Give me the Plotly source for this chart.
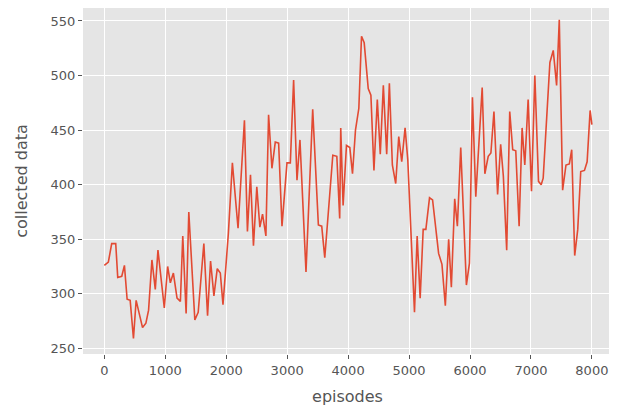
import plotly.graph_objects as go

episodes = [0, 66, 121, 187, 220, 286, 330, 374, 424, 478, 522, 627, 682, 726, 781, 836, 880, 984,
            1039, 1083, 1133, 1193, 1248, 1287, 1342, 1386, 1485, 1540, 1633, 1694, 1743, 1798, 1853,
            1903, 1947, 2035, 2101, 2194, 2299, 2348, 2398, 2447, 2502, 2552, 2596, 2651, 2695, 2750,
            2805, 2860, 2915, 2997, 3052, 3106, 3161, 3210, 3309, 3419, 3512, 3567, 3617, 3749, 3815,
            3862, 3879, 3918, 3973, 4028, 4072, 4121, 4176, 4220, 4264, 4330, 4374, 4424, 4479, 4528,
            4578, 4633, 4677, 4726, 4781, 4831, 4880, 4935, 4979, 5089, 5133, 5182, 5232, 5276, 5336,
            5386, 5485, 5540, 5595, 5650, 5694, 5749, 5793, 5848, 5941, 5991, 6040, 6095, 6200, 6244,
            6299, 6343, 6393, 6453, 6503, 6547, 6602, 6652, 6701, 6751, 6806, 6855, 6899, 6954, 7009,
            7064, 7124, 7168, 7201, 7311, 7366, 7421, 7465, 7520, 7575, 7630, 7669, 7718, 7768, 7817,
            7878, 7922, 7971, 8000]
collected = [326, 329, 346, 346, 315, 316, 326, 295, 294, 259, 294, 269, 273, 285, 331, 304, 340, 287,
             325, 310, 319, 296, 293, 353, 282, 375, 276, 283, 346, 280, 330, 298, 323,
             319, 290, 355, 420, 360, 459, 357, 409, 344, 398, 361, 373, 353, 464, 415,
             439, 438, 362, 420, 420, 496, 404, 441, 320, 469, 363, 362, 333, 427, 426,
             369, 452, 381, 436, 434, 410, 450, 470, 536, 530, 488, 482, 413, 478, 428,
             491, 428, 493, 418, 401, 444, 421, 452, 423, 283, 353, 296, 359, 359, 388,
             386, 337, 327, 289, 350, 306, 387, 362, 434, 308, 328, 480, 389, 489, 410,
             426, 429, 467, 391, 437, 408, 340, 467, 432, 431, 362, 452, 418, 478, 394,
             500, 403, 400, 406, 512, 523, 491, 551, 395, 418, 419, 432, 335, 359, 412,
             413, 421, 468, 455]

fig = go.Figure(go.Scatter(x=episodes, y=collected, mode="lines",
                           line=dict(color="#E24A33", width=1.6)))

axis = dict(showgrid=True, gridcolor="white", gridwidth=1.2, zeroline=False,
            ticks="outside", ticklen=4, tickcolor="#555555", automargin=False,
            tickfont=dict(family="DejaVu Sans", size=13, color="#555555"),
            title_font=dict(family="DejaVu Sans", size=16, color="#555555"), showline=False)

fig.update_layout(
    width=617, height=414,
    margin=dict(l=75, r=13, t=0, b=68),
    paper_bgcolor="white", plot_bgcolor="#E5E5E5",
    showlegend=False,
    xaxis=dict(axis, range=[-350, 8330], tickvals=list(range(0, 8001, 1000)),
               title=dict(text="episodes", standoff=14)),
    yaxis=dict(axis, range=[244.8, 561.9], tickvals=list(range(250, 551, 50)),
               title=dict(text="collected data", standoff=18)),
)

fig.write_html("out.html")
